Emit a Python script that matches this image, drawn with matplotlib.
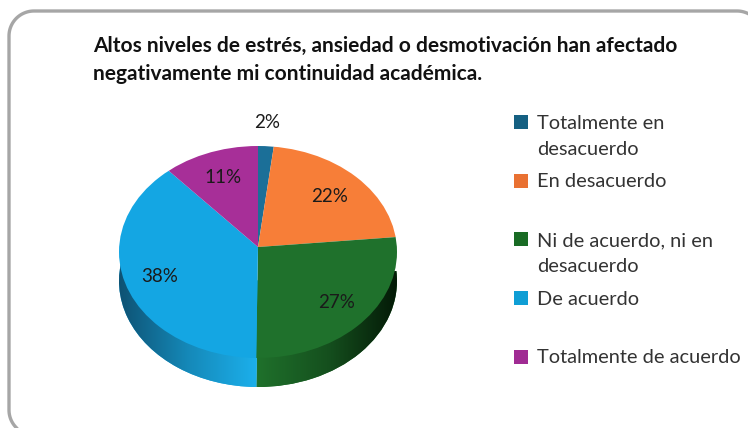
import matplotlib
matplotlib.use('Agg')
import matplotlib.pyplot as plt
import numpy as np
from matplotlib.colors import LinearSegmentedColormap
from matplotlib.patches import Circle

plt.rcParams['font.family'] = ['Lato', 'DejaVu Sans']

W, H = 748, 428

title = 'Altos niveles de estrés, ansiedad o desmotivación han afectado\nnegativamente mi continuidad académica.'
labels = ['Totalmente en\ndesacuerdo', 'En desacuerdo', 'Ni de acuerdo, ni en\ndesacuerdo', 'De acuerdo', 'Totalmente de acuerdo']
# slice sizes as measured on the drawn pie, printed labels are below
shares = [1.9, 21.6, 26.7, 38.2, 11.6]
percents = [2, 22, 27, 38, 11]
colors = ['#1b6f98', '#f77e38', '#1f712c', '#14a6e3', '#a72f98']
legend_colors = ['#156082', '#e97132', '#196b24', '#0f9ed5', '#a02b93']
label_pos = [(267, 122), (330, 196), (337, 302), (160, 277), (223, 177)]


def px_axes(left, top, right, bottom, **kw):
    return fig.add_axes([left / W, 1 - bottom / H, (right - left) / W, (bottom - top) / H], **kw)


def squash(ax):
    ax.set_aspect('auto')
    ax.set_xlim(-1, 1)
    ax.set_ylim(-1, 1)
    ax.axis('off')


def corner(cx, cy, r, a0, a1):
    a = np.radians(np.linspace(a0, a1, 30))
    return cx + r * np.cos(a), cy + r * np.sin(a)


fig = plt.figure(figsize=(W / 100, H / 100), dpi=100, facecolor='white')

# side of the pie, same wedges pushed down and filled with a gradient
side = px_axes(119, 175, 397, 387)
wedges, _ = side.pie(shares, startangle=90, counterclock=False, radius=1, colors=colors)
squash(side)
for i in (0, 1, 4):
    wedges[i].set_facecolor('none')
grads = [(3, ['#0e5273', '#1589b9', '#1cb0ec'], (-1, 0)), (2, ['#1f702b', '#15501e', '#041a07'], (0, 1))]
for i, cols, (x0, x1) in grads:
    cmap = LinearSegmentedColormap.from_list('side', cols)
    im = side.imshow(np.linspace(0, 1, 200)[None, :], cmap=cmap, extent=(x0, x1, -1, 1), aspect='auto', zorder=3)
    im.set_clip_path(wedges[i])
squash(side)

# top face, apex sits above the middle of the ellipse so clip a bigger pie
top = px_axes(119, 146, 397, 358)
top_wedges, _ = top.pie(shares, startangle=90, counterclock=False, radius=1.2, center=(0, 0.047), colors=colors)
squash(top)
edge = Circle((0, 0), 1, transform=top.transData, fc='none', ec='none')
top.add_patch(edge)
for w in top_wedges:
    w.set_clip_on(True)
    w.set_clip_path(edge)

# overlay in pixel coordinates for frame and text
ax = fig.add_axes([0, 0, 1, 1], zorder=5)
ax.set_xlim(0, W)
ax.set_ylim(H, 0)
ax.axis('off')

# frame runs off the right and bottom of the picture
r = 25
xl, yt, xr, yb = 9, 11, 762, 435
x1, y1 = corner(xl + r, yb - r, r, 135, 180)
x2, y2 = corner(xl + r, yt + r, r, 180, 270)
x3, y3 = corner(xr - r, yt + r, r, 270, 330)
ax.plot(np.r_[x1, x2, x3], np.r_[y1, y2, y3], color='#a6a6a6', lw=2.4)

ax.text(93, 60, title, fontsize=15, fontweight='bold', color='#111111', va='center', ha='left', linespacing=1.45)

for v, (x, y) in zip(percents, label_pos):
    ax.text(x, y, f'{v}%', fontsize=13.5, color='#1a1a1a', ha='center', va='center')

for i, (lab, c) in enumerate(zip(labels, legend_colors)):
    y = 122 + i * 58.7
    ax.scatter([521], [y], marker='s', s=90, color=c, linewidths=0)
    ax.text(537, y - 7.5, lab, fontsize=14.4, color='#333333', va='top', ha='left', linespacing=1.68)

ax.set_xlim(0, W)
ax.set_ylim(H, 0)

fig.savefig('out.png', dpi=100)
